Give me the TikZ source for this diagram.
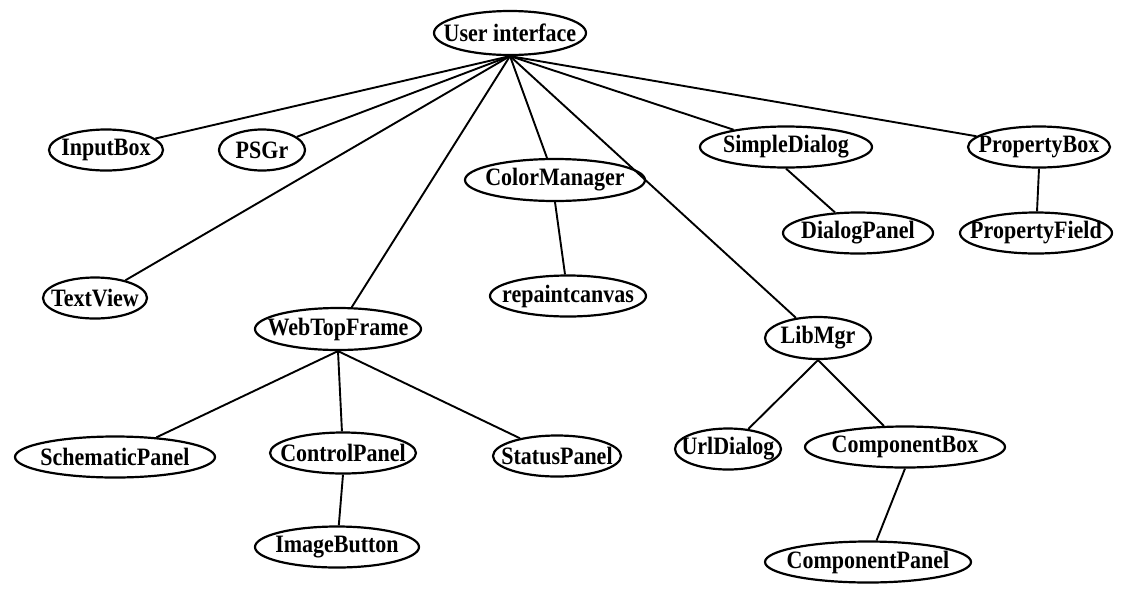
\documentclass[tikz,border=0pt]{standalone}
\usepackage{fontspec}
\usepackage{graphicx}
\setmainfont{Liberation Serif}
\usetikzlibrary{shapes.geometric}
\newcommand\nodefont{\fontsize{25}{28}\selectfont\bfseries}
\newcommand\lbl[1]{\makebox[0pt]{\scalebox{0.88}[1]{#1}}}
\begin{document}
\begin{tikzpicture}[x=1pt,y=-1pt,
  el/.style 2 args={ellipse, draw, line width=2.2pt, inner sep=0pt, minimum width=#1pt, minimum height=#2pt, font=\nodefont},
  edge/.style={line width=1.9pt}]
\useasboundingbox (0,0) rectangle (1148,592);
\node[el={152}{44}] (ui)  at (510,33)  {\lbl{User interface}};
\node[el={114}{41}] (ib)  at (106,150) {\lbl{InputBox}};
\node[el={86}{41}]  (ps)  at (262,150) {\lbl{PSGr}};
\node[el={104}{41}] (tv)  at (95,298)  {\lbl{TextView}};
\node[el={180}{42}] (cm)  at (555,180) {\lbl{ColorManager}};
\node[el={156}{41}] (rc)  at (568,296) {\lbl{repaintcanvas}};
\node[el={166}{42}] (wt)  at (338,329) {\lbl{WebTopFrame}};
\node[el={172}{41}] (sd)  at (786,147) {\lbl{SimpleDialog}};
\node[el={150}{41}] (dp)  at (858,233) {\lbl{DialogPanel}};
\node[el={142}{41}] (pb)  at (1039,147) {\lbl{PropertyBox}};
\node[el={152}{41}] (pf)  at (1036,233) {\lbl{PropertyField}};
\node[el={106}{42}] (lm)  at (818,338) {\lbl{LibMgr}};
\node[el={200}{41}] (sp)  at (115,457) {\lbl{SchematicPanel}};
\node[el={146}{41}] (cp)  at (343,453) {\lbl{ControlPanel}};
\node[el={128}{41}] (st)  at (557,456) {\lbl{StatusPanel}};
\node[el={106}{41}] (ud)  at (728,449) {\lbl{UrlDialog}};
\node[el={200}{41}] (cb)  at (905,447) {\lbl{ComponentBox}};
\node[el={164}{41}] (imb) at (337,547) {\lbl{ImageButton}};
\node[el={206}{41}] (cpn) at (868,562) {\lbl{ComponentPanel}};
\foreach \c in {ib,ps,tv,wt,cm,lm,sd,pb} \draw[edge] (ui.south) -- (\c);
\draw[edge] (cm.south) -- (rc);
\draw[edge] (sd.south) -- (dp);
\draw[edge] (pb.south) -- (pf);
\foreach \c in {sp,cp,st} \draw[edge] (wt.south) -- (\c);
\draw[edge] (cp.south) -- (imb);
\foreach \c in {ud,cb} \draw[edge] (lm.south) -- (\c);
\draw[edge] (cb.south) -- (cpn);
\end{tikzpicture}
\end{document}
